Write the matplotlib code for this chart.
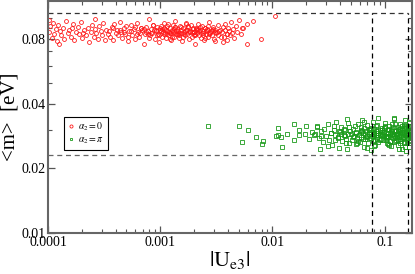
import matplotlib
matplotlib.use("Agg")
import matplotlib.pyplot as plt
from matplotlib.ticker import FixedLocator, NullFormatter

plt.rcParams['font.family'] = ['Liberation Serif', 'DejaVu Serif']
plt.rcParams['mathtext.fontset'] = 'stix'

# red circles: alpha_2 = 0
red_x = [
    1.02e-4, 1.05e-4, 1.08e-4, 1.1e-4, 1.13e-4, 1.17e-4, 1.2e-4, 1.24e-4, 1.28e-4, 1.31e-4,
    1.36e-4, 1.4e-4, 1.45e-4, 1.5e-4, 1.55e-4, 1.6e-4, 1.66e-4, 1.72e-4, 1.78e-4, 1.85e-4,
    1.9e-4, 1.96e-4, 2.02e-4, 2.1e-4, 2.17e-4, 2.25e-4, 2.32e-4, 2.4e-4, 2.48e-4, 2.55e-4,
    2.63e-4, 2.7e-4, 2.78e-4, 2.86e-4, 2.95e-4, 3.03e-4, 3.1e-4, 3.2e-4, 3.3e-4, 3.4e-4,
    1.03e-4, 1.25e-4, 1.62e-4, 2.05e-4, 2.6e-4,
    3.5e-4, 3.6e-4, 3.7e-4, 3.8e-4, 3.9e-4, 4.0e-4, 4.1e-4, 4.2e-4, 4.35e-4, 4.5e-4,
    4.6e-4, 4.75e-4, 4.9e-4, 5.0e-4, 5.15e-4, 5.3e-4, 5.45e-4, 5.6e-4, 5.8e-4, 6.0e-4,
    6.15e-4, 6.3e-4, 6.5e-4, 6.7e-4, 6.9e-4, 7.1e-4, 7.3e-4, 7.5e-4, 7.7e-4, 7.9e-4,
    8.1e-4, 8.3e-4, 8.5e-4, 8.7e-4, 8.9e-4, 9.1e-4, 9.3e-4, 9.5e-4, 9.7e-4, 9.9e-4,
    1.01e-3, 1.03e-3, 1.05e-3, 1.07e-3, 1.09e-3, 1.11e-3, 1.13e-3, 1.15e-3, 1.17e-3, 1.19e-3,
    1.21e-3, 1.23e-3, 1.25e-3, 1.27e-3, 1.29e-3, 1.31e-3, 1.33e-3, 1.35e-3, 1.38e-3, 1.41e-3,
    1.44e-3, 1.47e-3, 1.5e-3, 1.53e-3, 1.56e-3, 1.59e-3, 1.62e-3, 1.65e-3, 1.68e-3, 1.71e-3,
    1.74e-3, 1.77e-3, 1.8e-3, 1.84e-3, 1.88e-3, 1.92e-3, 1.96e-3, 2.0e-3, 2.04e-3, 2.08e-3,
    2.12e-3, 2.16e-3, 2.2e-3, 2.25e-3, 2.3e-3, 2.35e-3, 2.4e-3, 2.45e-3, 2.5e-3, 2.56e-3,
    2.62e-3, 2.68e-3, 2.74e-3, 2.8e-3, 2.87e-3, 2.94e-3, 3.01e-3, 3.08e-3, 3.16e-3, 3.25e-3,
    3.35e-3, 3.45e-3,
    6.2e-4, 6.8e-4, 7.4e-4, 8.0e-4, 8.6e-4, 9.2e-4, 9.8e-4, 1.04e-3, 1.1e-3, 1.16e-3,
    1.22e-3, 1.28e-3, 1.36e-3, 1.43e-3, 1.52e-3, 1.6e-3, 1.7e-3, 1.82e-3, 1.94e-3, 2.06e-3,
    2.18e-3, 2.32e-3, 2.48e-3, 2.65e-3, 2.85e-3, 3.05e-3, 1.0e-3, 1.4e-3, 2.0e-3, 2.6e-3,
    8.2e-4, 8.8e-4, 9.4e-4, 1.02e-3, 1.08e-3, 1.14e-3, 1.2e-3, 1.26e-3, 1.32e-3, 1.39e-3,
    1.46e-3, 1.54e-3, 1.63e-3, 1.72e-3, 1.86e-3, 1.98e-3, 2.1e-3, 2.22e-3, 2.38e-3, 2.52e-3,
    2.7e-3, 2.9e-3, 3.1e-3, 3.3e-3, 5.5e-4, 6.0e-4, 6.6e-4, 7.2e-4, 7.8e-4, 4.4e-4,
    4.8e-4, 5.2e-4, 3.8e-4, 1.12e-3, 1.24e-3, 1.34e-3, 1.48e-3, 1.66e-3, 1.78e-3, 1.9e-3,
    2.02e-3, 2.14e-3, 2.28e-3, 2.42e-3, 2.58e-3, 2.76e-3, 2.98e-3, 3.2e-3, 3.4e-3, 3.9e-3,
    3.55e-3, 3.6e-3, 3.7e-3, 3.75e-3, 3.8e-3, 3.9e-3, 3.95e-3, 4.0e-3, 4.1e-3, 4.2e-3,
    4.25e-3, 4.35e-3, 4.45e-3, 4.55e-3, 4.7e-3, 4.85e-3, 5.0e-3, 5.2e-3, 5.5e-3, 3.65e-3,
    5.9e-3, 7.9e-3, 1.05e-2, 6.7e-3, 5.4e-3, 5.9e-3,
]
red_y = [
    0.086, 0.092, 0.081, 0.095, 0.084, 0.089, 0.078, 0.093, 0.087, 0.083,
    0.090, 0.080, 0.097, 0.085, 0.088, 0.082, 0.094, 0.079, 0.086, 0.091,
    0.084, 0.096, 0.081, 0.088, 0.083, 0.090, 0.077, 0.086, 0.093, 0.082,
    0.089, 0.085, 0.080, 0.092, 0.087, 0.083, 0.095, 0.079, 0.088, 0.084,
    0.098, 0.076, 0.090, 0.085, 0.099,
    0.087, 0.082, 0.091, 0.079, 0.094, 0.085, 0.088, 0.083, 0.096, 0.086,
    0.081, 0.090, 0.084, 0.092, 0.078, 0.087, 0.093, 0.083, 0.089, 0.080,
    0.095, 0.086, 0.082, 0.090, 0.088, 0.076, 0.084, 0.091, 0.087, 0.099,
    0.083, 0.089, 0.085, 0.093, 0.080, 0.087, 0.091, 0.084, 0.077, 0.088,
    0.092, 0.082, 0.086, 0.095, 0.084, 0.089, 0.081, 0.087, 0.094, 0.083,
    0.090, 0.085, 0.079, 0.088, 0.093, 0.086, 0.082, 0.097, 0.084, 0.089,
    0.087, 0.081, 0.092, 0.085, 0.078, 0.090, 0.086, 0.083, 0.095, 0.088,
    0.084, 0.091, 0.080, 0.087, 0.093, 0.082, 0.089, 0.086, 0.076, 0.090,
    0.085, 0.094, 0.083, 0.088, 0.081, 0.092, 0.087, 0.079, 0.090, 0.084,
    0.089, 0.082, 0.096, 0.086, 0.083, 0.091, 0.080, 0.088, 0.085, 0.093,
    0.087, 0.082,
    0.084, 0.090, 0.086, 0.081, 0.093, 0.088, 0.083, 0.089, 0.085, 0.092,
    0.080, 0.087, 0.091, 0.084, 0.088, 0.082, 0.094, 0.086, 0.090, 0.083,
    0.089, 0.085, 0.081, 0.092, 0.087, 0.078, 0.090, 0.084, 0.086, 0.088,
    0.085, 0.088, 0.083, 0.087, 0.090, 0.084, 0.086, 0.082, 0.089, 0.087,
    0.085, 0.091, 0.084, 0.088, 0.086, 0.083, 0.089, 0.087, 0.085, 0.090,
    0.084, 0.088, 0.086, 0.083, 0.087, 0.091, 0.085, 0.089, 0.084, 0.088,
    0.086, 0.082, 0.090, 0.088, 0.085, 0.091, 0.083, 0.087, 0.092, 0.086,
    0.084, 0.088, 0.091, 0.083, 0.087, 0.085, 0.089, 0.086, 0.088, 0.084,
    0.086, 0.091, 0.082, 0.088, 0.094, 0.084, 0.079, 0.090, 0.087, 0.083,
    0.096, 0.085, 0.089, 0.081, 0.092, 0.086, 0.098, 0.084, 0.090, 0.077,
    0.076, 0.080, 0.102, 0.097, 0.090, 0.0935,
]

# green squares: alpha_2 = pi
green_x = [
    0.00266, 0.0050, 0.0060, 0.0054, 0.0071, 0.0082, 0.0080, 0.0111, 0.0111, 0.0107,
    0.0118, 0.0134, 0.0121, 0.0155, 0.0171, 0.0171, 0.0155, 0.0200, 0.0194, 0.0210,
    0.0225, 0.0235, 0.0250, 0.0265,
    0.024, 0.025, 0.026, 0.027, 0.028, 0.029, 0.030, 0.031, 0.032, 0.033,
    0.034, 0.035, 0.036, 0.037, 0.038, 0.039, 0.040, 0.041, 0.042, 0.043,
    0.044, 0.045, 0.046, 0.047, 0.048, 0.049, 0.027, 0.031, 0.035, 0.038,
    0.041, 0.043, 0.045, 0.047, 0.036, 0.039, 0.044, 0.048, 0.033, 0.046,
    0.050, 0.051, 0.052, 0.053, 0.054, 0.055, 0.056, 0.057, 0.058, 0.059,
    0.060, 0.061, 0.062, 0.063, 0.064, 0.065, 0.066, 0.067, 0.068, 0.069,
    0.070, 0.071, 0.072, 0.073, 0.074, 0.075, 0.076, 0.077, 0.078, 0.079,
    0.080, 0.081, 0.082, 0.083, 0.084, 0.085, 0.086, 0.087, 0.088, 0.090,
    0.052, 0.055, 0.058, 0.061, 0.064, 0.067, 0.070, 0.073, 0.076, 0.079,
    0.082, 0.085, 0.088, 0.057, 0.063, 0.069, 0.075, 0.081, 0.087, 0.066,
    0.092, 0.094, 0.096, 0.098, 0.100, 0.102, 0.104, 0.106, 0.108, 0.110,
    0.112, 0.114, 0.116, 0.118, 0.120, 0.122, 0.124, 0.126, 0.128, 0.130,
    0.132, 0.134, 0.136, 0.138, 0.140, 0.142, 0.144, 0.146, 0.148, 0.150,
    0.152, 0.154, 0.156, 0.158, 0.160, 0.162, 0.164, 0.166, 0.168, 0.170,
    0.093, 0.097, 0.101, 0.105, 0.109, 0.113, 0.117, 0.121, 0.125, 0.129,
    0.133, 0.137, 0.141, 0.145, 0.149, 0.153, 0.157, 0.161, 0.165, 0.169,
    0.095, 0.103, 0.111, 0.119, 0.127, 0.135, 0.143, 0.151, 0.159, 0.167,
    0.099, 0.107, 0.115, 0.123, 0.131, 0.139, 0.147, 0.155, 0.163, 0.172,
    0.062, 0.068, 0.074, 0.080, 0.086, 0.091, 0.096, 0.100, 0.104, 0.108,
    0.112, 0.116, 0.120, 0.124, 0.128, 0.132, 0.136, 0.140, 0.144, 0.148,
    0.152, 0.156, 0.160, 0.164, 0.168, 0.172, 0.094, 0.102, 0.110, 0.118,
    0.126, 0.134, 0.142, 0.150, 0.158, 0.166, 0.174, 0.078, 0.084, 0.090,
    0.098, 0.106, 0.114, 0.122, 0.130, 0.138, 0.146, 0.154, 0.162, 0.170,
]
green_y = [
    0.0316, 0.0316, 0.0300, 0.0264, 0.0281, 0.0267, 0.0259, 0.0309, 0.0287, 0.0284,
    0.0281, 0.0290, 0.0252, 0.0320, 0.0303, 0.0287, 0.0270, 0.0313, 0.0290, 0.0275,
    0.0294, 0.0287, 0.0313, 0.0245,
    0.0290, 0.0312, 0.0276, 0.0298, 0.0265, 0.0305, 0.0283, 0.0320, 0.0271, 0.0293,
    0.0258, 0.0301, 0.0287, 0.0330, 0.0279, 0.0248, 0.0295, 0.0310, 0.0268, 0.0285,
    0.0302, 0.0274, 0.0338, 0.0290, 0.0261, 0.0297, 0.0282, 0.0253, 0.0315, 0.0277,
    0.0289, 0.0306, 0.0262, 0.0325, 0.0270, 0.0299, 0.0284, 0.0312, 0.0293, 0.0246,
    0.0288, 0.0271, 0.0304, 0.0282, 0.0315, 0.0259, 0.0293, 0.0277, 0.0321, 0.0286,
    0.0266, 0.0300, 0.0280, 0.0335, 0.0291, 0.0252, 0.0309, 0.0274, 0.0297, 0.0284,
    0.0318, 0.0263, 0.0289, 0.0303, 0.0276, 0.0244, 0.0295, 0.0283, 0.0327, 0.0269,
    0.0292, 0.0306, 0.0257, 0.0287, 0.0313, 0.0279, 0.0298, 0.0266, 0.0341, 0.0285,
    0.0281, 0.0296, 0.0268, 0.0311, 0.0275, 0.0290, 0.0249, 0.0302, 0.0278, 0.0294,
    0.0272, 0.0319, 0.0287, 0.0261, 0.0299, 0.0283, 0.0308, 0.0255, 0.0291, 0.0330,
    0.0286, 0.0307, 0.0270, 0.0295, 0.0324, 0.0279, 0.0262, 0.0300, 0.0284, 0.0316,
    0.0291, 0.0253, 0.0305, 0.0276, 0.0338, 0.0289, 0.0267, 0.0298, 0.0281, 0.0311,
    0.0258, 0.0294, 0.0273, 0.0322, 0.0287, 0.0247, 0.0303, 0.0280, 0.0296, 0.0265,
    0.0314, 0.0284, 0.0240, 0.0292, 0.0277, 0.0309, 0.0269, 0.0330, 0.0288, 0.0299,
    0.0274, 0.0296, 0.0313, 0.0283, 0.0256, 0.0301, 0.0290, 0.0344, 0.0271, 0.0286,
    0.0305, 0.0263, 0.0293, 0.0279, 0.0318, 0.0250, 0.0297, 0.0285, 0.0326, 0.0272,
    0.0301, 0.0282, 0.0267, 0.0310, 0.0289, 0.0245, 0.0294, 0.0336, 0.0276, 0.0303,
    0.0291, 0.0259, 0.0320, 0.0280, 0.0298, 0.0268, 0.0308, 0.0287, 0.0252, 0.0315,
    0.0296, 0.0281, 0.0305, 0.0289, 0.0274, 0.0301, 0.0285, 0.0312, 0.0278, 0.0293,
    0.0268, 0.0299, 0.0284, 0.0320, 0.0289, 0.0272, 0.0304, 0.0282, 0.0295, 0.0261,
    0.0308, 0.0287, 0.0276, 0.0299, 0.0316, 0.0283, 0.0290, 0.0270, 0.0306, 0.0286,
    0.0297, 0.0279, 0.0314, 0.0292, 0.0264, 0.0302, 0.0288, 0.0283, 0.0299, 0.0272,
    0.0309, 0.0281, 0.0294, 0.0266, 0.0302, 0.0288, 0.0276, 0.0311, 0.0291, 0.0280,
]

# dashed bounds
m_bounds = [0.023, 0.105]
u_bounds = [0.077, 0.16]

y_major = [0.01, 0.02, 0.04, 0.08]
y_minor = [0.03, 0.05, 0.06, 0.07, 0.09, 0.1]
x_major = [1e-4, 1e-3, 1e-2, 1e-1]
x_labels = ['0.0001', '0.001', '0.01', '0.1']

fig = plt.figure(figsize=(4.15, 2.74), dpi=100)
ax = fig.add_axes([48 / 415, 41 / 274, 364 / 415, 232 / 274])

ax.plot(red_x, red_y, 'o', ms=2.8, mfc='none', mec='#ff1a1a', mew=0.6,
        label=r'$\alpha_2 = 0$')
ax.plot(green_x, green_y, 's', ms=2.5, mfc='none', mec='#1a9a1a', mew=0.6,
        label=r'$\alpha_2 = \pi$')

for m in m_bounds:
    ax.plot([1e-4, u_bounds[1]], [m, m], color='#333333' if m > 0.05 else '#666666',
            ls=(0, (4, 3)), lw=0.9)
for u in u_bounds:
    ax.plot([u, u], [0.01, m_bounds[1]], color='k', ls=(0, (4, 3)), lw=0.9)

ax.set_xscale('log')
ax.set_yscale('log')
ax.set_xlim(1e-4, 0.175)
ax.set_ylim(0.01, 0.12)

ax.yaxis.set_major_locator(FixedLocator(y_major))
ax.yaxis.set_minor_locator(FixedLocator(y_minor))
ax.set_yticklabels([str(v) for v in y_major])
ax.yaxis.set_minor_formatter(NullFormatter())
ax.xaxis.set_major_locator(FixedLocator(x_major))
ax.set_xticklabels(x_labels)
ax.xaxis.set_minor_formatter(NullFormatter())

ax.tick_params(which='both', direction='in', top=True, right=True,
               color='#555555', labelsize=10, pad=2)
ax.tick_params(which='major', length=5, width=0.9)
ax.tick_params(which='minor', length=3, width=0.8)
for s in ax.spines.values():
    s.set_color('#666666')
    s.set_linewidth(1.5)

ax.set_xlabel(r'$|\mathrm{U}_{\mathrm{e3}}|$', fontsize=16, labelpad=0)
ax.set_ylabel('<m>  [eV]', fontsize=15)
ax.yaxis.set_label_coords(-0.078, 0.5)

leg = ax.legend(loc='upper left', bbox_to_anchor=(0.044, 0.5), fontsize=7,
                frameon=True, fancybox=False, edgecolor='k', framealpha=1,
                handlelength=0.6, handletextpad=0.4, borderpad=0.4,
                labelspacing=0.2, borderaxespad=0, markerscale=0.8)
leg.get_frame().set_linewidth(0.8)

fig.savefig('out.png', dpi=100)
